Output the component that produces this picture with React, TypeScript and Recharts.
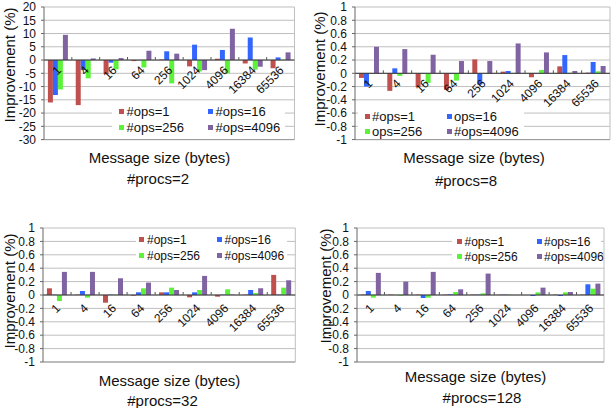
import React from 'react';
import { BarChart, Bar, XAxis, YAxis, CartesianGrid, ReferenceLine, Legend } from 'recharts';

const sizes = ['1', '4', '16', '64', '256', '1024', '4096', '16384', '65536'];
const seriesKeys = ['ops1', 'ops16', 'ops256', 'ops4096'];
const seriesColors = ['#C0504D', '#3366FF', '#5CF23A', '#8064A2'];

const namesDefault = ['#ops=1', '#ops=16', '#ops=256', '#ops=4096'];
const namesProcs8 = ['#ops=1', 'ops=16', 'ops=256', '#ops=4096'];

const ticksWide = [-30, -25, -20, -15, -10, -5, 0, 5, 10, 15, 20];
const ticksUnit = [-1, -0.8, -0.6, -0.4, -0.2, 0, 0.2, 0.4, 0.6, 0.8, 1];

// #procs=2
const p2Ops1 = [-16.0, -17.0, -5.3, -0.4, 0.2, -2.4, 0.5, -1.3, -3.1];
const p2Ops16 = [-13.2, -3.8, -1.0, -0.1, 3.3, 5.8, 3.8, 8.5, 1.0];
const p2Ops256 = [-11.1, -6.9, -3.5, -2.8, -8.8, -4.3, -5.0, -3.6, 0.1];
const p2Ops4096 = [9.5, 0.6, 0.75, 3.5, 2.4, -3.8, 11.8, -2.5, 2.9];

// #procs=8
const p8Ops1 = [-0.07, -0.265, -0.205, -0.25, 0.21, 0.025, -0.06, 0.105, 0.01];
const p8Ops16 = [-0.2, 0.075, -0.005, -0.01, -0.17, 0.035, 0.005, 0.275, 0.17];
const p8Ops256 = [-0.01, -0.04, -0.145, -0.11, 0.005, 0.005, 0.05, 0.01, 0.03];
const p8Ops4096 = [0.4, 0.365, 0.28, 0.185, 0.185, 0.45, 0.315, 0.035, 0.11];

// #procs=32
const p32Ops1 = [0.1, 0.005, -0.115, -0.01, 0.04, -0.035, -0.025, 0.005, 0.3];
const p32Ops16 = [0.005, 0.06, 0.005, 0.04, 0.04, 0.04, 0.005, 0.075, 0.005];
const p32Ops256 = [-0.09, -0.04, 0.005, 0.1, 0.11, 0.075, 0.085, 0.03, 0.11];
const p32Ops4096 = [0.345, 0.345, 0.25, 0.185, 0.075, 0.285, 0.005, 0.1, 0.22];

// #procs=128
const p128Ops1 = [0.005, 0.005, 0.005, 0.005, 0.005, 0.005, 0, 0.005, 0.005];
const p128Ops16 = [0.06, 0, -0.045, 0.01, 0.005, 0.005, -0.015, -0.015, 0.16];
const p128Ops256 = [-0.04, -0.01, -0.04, 0.045, 0.025, 0.005, 0.04, 0.04, 0.095];
const p128Ops4096 = [0.33, 0.2, 0.345, 0.085, 0.32, 0, 0.11, 0.045, 0.17];

const FONT = '"Liberation Sans", Arial, sans-serif';

function buildRows(a: number[], b: number[], c: number[], d: number[]) {
  return sizes.map((size, i) => ({ size, ops1: a[i], ops16: b[i], ops256: c[i], ops4096: d[i] }));
}

type Rect = { l: number; t: number; r: number; b: number };
type LegendSpec = { x: number; y: number; dx: number; dy: number; font: number; box: Rect };

type PanelProps = {
  rows: any[];
  ticks: number[];
  names: string[];
  plot: Rect;
  legend: LegendSpec;
  labelDy: number;
};

const YW = 40;
const MT = 8;
const MR = 4;
const MB = 10;
const XH = 4;

function Panel({ rows, ticks, names, plot, legend, labelDy }: PanelProps) {
  const x0 = plot.l - YW;
  const y0 = plot.t - MT;
  const W = plot.r + MR - x0;
  const H = plot.b + XH + MB - y0;
  const min = ticks[0];
  const max = ticks[ticks.length - 1];
  const zeroY = MT + (max / (max - min)) * (plot.b - plot.t);
  const bw = (plot.r - plot.l) / sizes.length;
  const box = legend.box;

  // category labels sit on the zero line, slanted, with small boundary ticks
  const CatTick = (props: any) => {
    const { x, payload, index } = props;
    const left = x - bw / 2;
    const px = x + 4;
    const py = zeroY + labelDy;
    return (
      <g>
        {index > 0 && <line x1={left} x2={left} y1={zeroY} y2={zeroY - 3} stroke="#555" />}
        <text
          x={px}
          y={py}
          transform={`rotate(-45 ${px} ${py})`}
          textAnchor="end"
          fontSize={12}
          fontFamily={FONT}
          fill="#111"
        >
          {payload.value}
        </text>
      </g>
    );
  };

  const renderLegend = () => (
    <div style={{ position: 'relative', width: '100%', height: '100%', background: '#fff', fontFamily: FONT }}>
      {names.map((n, i) => {
        const col = i % 2;
        const row = Math.floor(i / 2);
        const sx = legend.x + col * legend.dx - box.l;
        const cy = legend.y + row * legend.dy - box.t;
        return (
          <React.Fragment key={n}>
            <div
              style={{ position: 'absolute', left: sx, top: cy - 2.5, width: 5, height: 5, background: seriesColors[i] }}
            />
            <div
              style={{
                position: 'absolute',
                left: sx + 7.5,
                top: cy - legend.font / 2,
                fontSize: legend.font,
                lineHeight: `${legend.font}px`,
                whiteSpace: 'nowrap',
                color: '#111',
              }}
            >
              {n}
            </div>
          </React.Fragment>
        );
      })}
    </div>
  );

  return (
    <div style={{ position: 'absolute', left: x0, top: y0 }}>
      <BarChart
        width={W}
        height={H}
        data={rows}
        margin={{ top: MT, right: MR, left: 0, bottom: MB }}
        barCategoryGap="14%"
        barGap={0}
      >
        <CartesianGrid
          stroke="#BFBFBF"
          vertical={true}
          verticalPoints={[W - MR]}
        />
        <XAxis
          dataKey="size"
          height={XH}
          interval={0}
          tickLine={false}
          axisLine={{ stroke: '#999' }}
          tick={<CatTick />}
        />
        <YAxis
          width={YW}
          domain={[min, max]}
          ticks={ticks}
          interval={0}
          tickSize={3}
          tickMargin={5}
          axisLine={{ stroke: '#666' }}
          tickLine={{ stroke: '#666' }}
          tick={{ fill: '#111', fontSize: 12, fontFamily: FONT }}
          tickFormatter={(v: number) => String(v)}
        />
        {seriesKeys.map((k, i) => (
          <Bar key={k} dataKey={k} name={names[i]} fill={seriesColors[i]} isAnimationActive={false} />
        ))}
        <ReferenceLine y={0} stroke="#333" />
        <Legend
          layout="vertical"
          align="center"
          verticalAlign="middle"
          wrapperStyle={{
            left: box.l - x0,
            top: box.t - y0,
            width: box.r - box.l,
            height: box.b - box.t,
            margin: 0,
          }}
          content={renderLegend}
        />
      </BarChart>
    </div>
  );
}

function Caption({ x, y, text, rotate }: { x: number; y: number; text: string; rotate?: boolean }) {
  return (
    <div
      style={{
        position: 'absolute',
        left: x,
        top: y,
        transform: `translate(-50%, -50%)${rotate ? ' rotate(-90deg)' : ''}`,
        fontFamily: FONT,
        fontSize: 15,
        lineHeight: '15px',
        whiteSpace: 'nowrap',
        color: '#111',
      }}
    >
      {text}
    </div>
  );
}

export default function App() {
  return (
    <div
      style={{
        position: 'absolute',
        left: 0,
        top: 0,
        width: 612,
        height: 408,
        background: '#fff',
        overflow: 'hidden',
      }}
    >
      <Panel
        rows={buildRows(p2Ops1, p2Ops16, p2Ops256, p2Ops4096)}
        ticks={ticksWide}
        names={namesDefault}
        plot={{ l: 43.5, t: 6.7, r: 294, b: 139.3 }}
        legend={{ x: 119, y: 111, dx: 89, dy: 16, font: 13, box: { l: 112, t: 103, r: 285, b: 134 } }}
        labelDy={11}
      />
      <Panel
        rows={buildRows(p8Ops1, p8Ops16, p8Ops256, p8Ops4096)}
        ticks={ticksUnit}
        names={namesProcs8}
        plot={{ l: 355, t: 6.7, r: 610, b: 139.3 }}
        legend={{ x: 364.5, y: 116, dx: 82, dy: 15, font: 13, box: { l: 358, t: 107, r: 524, b: 138 } }}
        labelDy={11}
      />
      <Panel
        rows={buildRows(p32Ops1, p32Ops16, p32Ops256, p32Ops4096)}
        ticks={ticksUnit}
        names={namesDefault}
        plot={{ l: 42.7, t: 228.3, r: 295, b: 362.3 }}
        legend={{ x: 139.5, y: 240, dx: 77.5, dy: 15.7, font: 12, box: { l: 136, t: 231, r: 287, b: 264 } }}
        labelDy={14}
      />
      <Panel
        rows={buildRows(p128Ops1, p128Ops16, p128Ops256, p128Ops4096)}
        ticks={ticksUnit}
        names={namesDefault}
        plot={{ l: 357, t: 228.3, r: 604, b: 362.3 }}
        legend={{ x: 457, y: 241.7, dx: 79.5, dy: 15, font: 12, box: { l: 452, t: 232, r: 601, b: 266 } }}
        labelDy={14}
      />

      <Caption x={9} y={65} text="Improvement (%)" rotate />
      <Caption x={159.5} y={157} text="Message size (bytes)" />
      <Caption x={158} y={178} text="#procs=2" />

      <Caption x={319} y={69} text="Improvement (%)" rotate />
      <Caption x={474} y={157} text="Message size (bytes)" />
      <Caption x={466} y={180} text="#procs=8" />

      <Caption x={9} y={291} text="Improvement (%)" rotate />
      <Caption x={169.5} y={380} text="Message size (bytes)" />
      <Caption x={162.5} y={400} text="#procs=32" />

      <Caption x={325} y={286} text="Improvement (%)" rotate />
      <Caption x={475.5} y={376} text="Message size (bytes)" />
      <Caption x={482} y={397} text="#procs=128" />
    </div>
  );
}
